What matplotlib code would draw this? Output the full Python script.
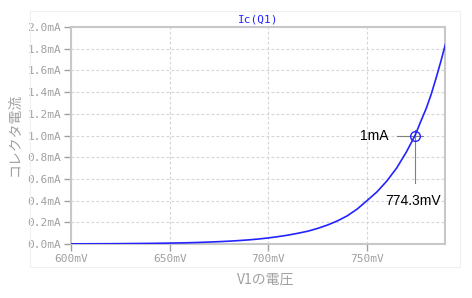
import matplotlib
matplotlib.use("Agg")
import matplotlib.pyplot as plt
from matplotlib.patches import Rectangle
from matplotlib.ticker import FixedLocator

# values
v1_mv = [600, 605, 610, 615, 620, 625, 630, 635, 640, 645, 650, 655, 660,
         665, 670, 675, 680, 685, 690, 695, 700, 705, 710, 715, 720, 725,
         730, 735, 740, 745, 750, 755, 760, 765, 770, 774.3, 777, 780,
         782.5, 785, 787.5, 790]
ic_ma = [0.0013, 0.0016, 0.0019, 0.0023, 0.0027, 0.0033, 0.0040, 0.0048,
         0.0057, 0.0069, 0.0083, 0.010, 0.012, 0.0147, 0.018, 0.0216, 0.026,
         0.0315, 0.038, 0.046, 0.056, 0.068, 0.082, 0.099, 0.118, 0.144,
         0.175, 0.213, 0.26, 0.322, 0.40, 0.48, 0.58, 0.70, 0.85, 1.0, 1.12,
         1.25, 1.38, 1.53, 1.69, 1.86]
x_ticks = [600, 650, 700, 750]
x_labels = ["600mV", "650mV", "700mV", "750mV"]
y_ticks = [0.0, 0.2, 0.4, 0.6, 0.8, 1.0, 1.2, 1.4, 1.6, 1.8, 2.0]
y_labels = ["%.1fmA" % t for t in y_ticks]
marker_v = 774.3
marker_i = 1.0

gray = "#a0a0a0"
frame = "#c8c8c8"
blue = "#2323ff"
cjk = ["Noto Sans CJK JP", "DejaVu Sans"]

fig = plt.figure(figsize=(4.72, 2.98), dpi=100)
fig.patch.set_facecolor("white")
ax = fig.add_axes([0.1504, 0.1812, 0.7924, 0.7282])

#faint outer box
fig.add_artist(Rectangle((30 / 472, 1 - 267 / 298), 430 / 472, 256 / 298,
                         transform=fig.transFigure, fill=False,
                         edgecolor="#f0f0f0", lw=0.8))

ax.plot(v1_mv, ic_ma, color=blue, lw=1.2, zorder=3)

ax.set_xlim(600, 789.5)
ax.set_ylim(0, 2.0)
ax.xaxis.set_major_locator(FixedLocator(x_ticks))
ax.yaxis.set_major_locator(FixedLocator(y_ticks))
ax.set_xticklabels(x_labels, family="DejaVu Sans Mono", fontsize=8, color=gray)
ax.set_yticklabels(y_labels, family="DejaVu Sans Mono", fontsize=8, color=gray)
ax.tick_params(axis="both", direction="out", length=5, width=1, color=gray, pad=2)

ax.grid(True, color="#d4d4d4", linestyle=(0, (2.5, 2)), lw=0.8)
for s in ax.spines.values():
    s.set_color(frame)
    s.set_linewidth(1.5)

ax.set_title("Ic(Q1)", family="DejaVu Sans Mono", fontsize=8, color=blue, pad=3)
fig.text(15 / 472, 1 - 134 / 298, "コレクタ電流", rotation=90, ha="center", va="center",
         family=cjk, fontsize=10, color=gray)
fig.text(266 / 472, 1 - 280 / 298, "V1の電圧", ha="center", va="center",
         family=cjk, fontsize=10, color=gray)

#cursor at 1mA
ax.plot([marker_v], [marker_i], "o", mfc="none", mec=blue, ms=7, mew=1, zorder=4)
ax.plot([marker_v - 9.2, marker_v + 4.3], [marker_i, marker_i], color="#808080", lw=0.8, zorder=2)
ax.plot([marker_v, marker_v], [marker_i + 0.05, marker_i - 0.44], color="#808080", lw=0.8, zorder=2)
ax.text(marker_v - 13.2, marker_i, "1mA", ha="right", va="center",
        family="Liberation Sans", fontsize=10, color="black")
ax.text(marker_v - 1.2, marker_i - 0.60, "774.3mV", ha="center", va="center",
        family="Liberation Sans", fontsize=10, color="black")

fig.savefig("out.png", dpi=100, facecolor="white")
